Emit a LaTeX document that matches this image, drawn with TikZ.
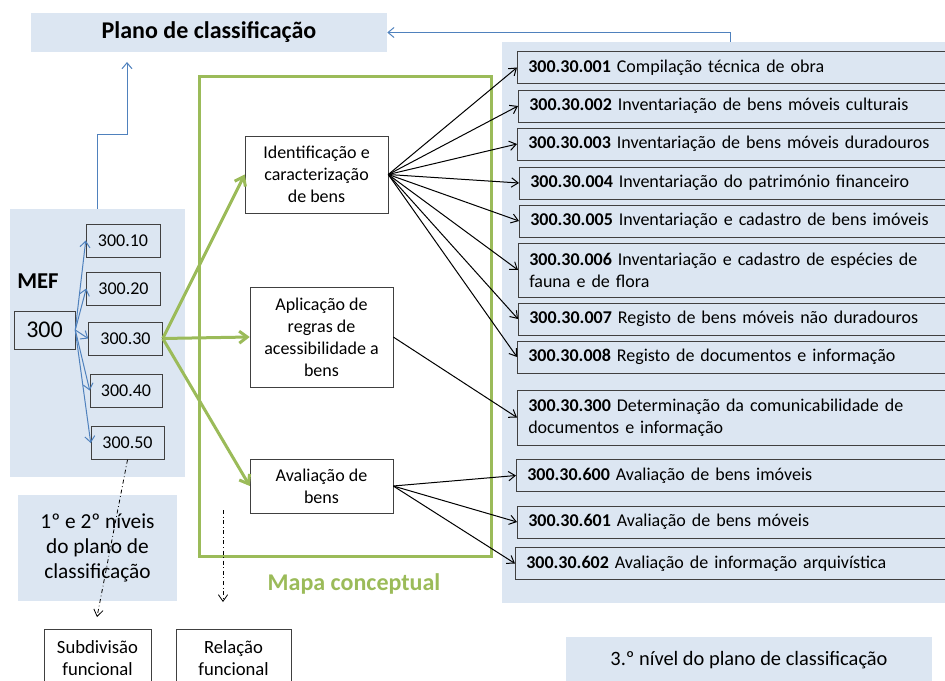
\documentclass[tikz,border=0pt]{standalone}
\usepackage{fontspec}
\setmainfont{Carlito}
\usepackage{tikz}
\usetikzlibrary{arrows.meta}
\definecolor{panelblue}{HTML}{DCE6F2}
\definecolor{lineblue}{HTML}{4F81BD}
\definecolor{mapgreen}{HTML}{9BBB59}
\tikzset{
       panel/.style = { fill=panelblue, inner sep=0pt },
      subbox/.style = { draw=black!75, fill=panelblue, minimum width=55.5pt, minimum height=24.75pt, inner sep=0pt, font=\fontsize{13.5}{16.5}\selectfont },
      midbox/.style = { draw=black!75, fill=white, minimum width=107.25pt, inner sep=0pt, align=center, font=\fontsize{13.5}{16.5}\selectfont },
     codebox/.style = { draw=black!75, anchor=west, minimum height=24pt, inner xsep=8.25pt, inner ysep=0pt, text width=315.75pt, align=left, font=\fontsize{13.5}{16.5}\selectfont },
     notebox/.style = { fill=panelblue, inner sep=0pt, align=center },
     funcbox/.style = { draw=black!75, fill=white, inner sep=0pt, minimum height=43.5pt, align=center, font=\fontsize{14}{16}\selectfont },
   bluearrow/.style = { draw=lineblue, line width=0.75pt, -{Straight Barb[length=4.5pt,width=7.5pt]} },
  greenarrow/.style = { draw=mapgreen, line width=2.25pt, -{Straight Barb[length=6pt,width=9pt]} },
    fanarrow/.style = { draw=black, line width=0.75pt, -{Straight Barb[length=5pt,width=7pt]} },
   dasharrow/.style = { draw=black, line width=0.6pt, dash dot, -{Straight Barb[length=5pt,width=7pt]} }
}

\begin{document}
\begin{tikzpicture}[x=0.75pt, y=-0.75pt]
  \useasboundingbox (0,0) rectangle (945,681);
  \clip (0,0) rectangle (945,681);

  % panels
  \node (plano) at(209,32.5) [panel, minimum width=267pt, minimum height=29.25pt, font=\fontsize{18}{21}\selectfont\bfseries] {Plano de classificação};
  \node (mef) at(97.5,343) [panel, minimum width=131.25pt, minimum height=201pt] {};
  \node (rpanel) at(731,322.5) [panel, minimum width=343.5pt, minimum height=420.75pt] {};
  \node (niveis) at(97.5,548) [notebox, minimum width=119.25pt, minimum height=79.5pt, font=\fontsize{16}{18.75}\selectfont] {1º e 2º níveis\\do plano de\\classificação};
  \node (terceiro) at(749,660.5) [notebox, minimum width=274.5pt, minimum height=35.25pt, font=\fontsize{15.3}{18}\selectfont] {3.º nível do plano de classificação};

  % mapa conceptual
  \node (mapa) at(345,316.5) [draw=mapgreen, line width=2.25pt, minimum width=219pt, minimum height=359.25pt] {};
  \node (mapalabel) at(354,584) [text=mapgreen, font=\fontsize{18}{21}\selectfont\bfseries] {Mapa conceptual};

  % MEF
  \node (meflabel) at(38,281) [font=\fontsize{17}{20}\selectfont\bfseries] {MEF};
  \node (n300) at(44.5,330) [draw=black!75, fill=panelblue, minimum width=45.75pt, minimum height=28.5pt, inner sep=0pt, font=\fontsize{18}{21}\selectfont] {300};
  \node (s10) at(123,240.5) [subbox] {300.10};
  \node (s20) at(123.5,288.5) [subbox] {300.20};
  \node (s30) at(125.5,338.5) [subbox] {300.30};
  \node (s40) at(126,390.5) [subbox, minimum width=54pt] {300.40};
  \node (s50) at(127.5,443) [subbox, minimum width=54.75pt] {300.50};

  % middle boxes
  \node (ident) at(316.5,174.5) [midbox, minimum height=57.75pt] {Identificação e\\caracterização\\de bens};
  \node (aplic) at(321.5,337) [midbox, minimum height=75pt] {Aplicação de\\regras de\\acessibilidade a\\bens};
  \node (aval) at(321.5,486) [midbox, minimum height=40.5pt] {Avaliação de\\bens};

  % 3rd level
  \node (r1) at(517,67.5) [codebox] {\textbf{300.30.001} Compilação técnica de obra};
  \node (r2) at(518,106) [codebox] {\textbf{300.30.002} Inventariação de bens móveis culturais};
  \node (r3) at(517,144) [codebox] {\textbf{300.30.003} Inventariação de bens móveis duradouros};
  \node (r4) at(519,183) [codebox] {\textbf{300.30.004} Inventariação do património financeiro};
  \node (r5) at(519,221) [codebox] {\textbf{300.30.005} Inventariação e cadastro de bens imóveis};
  \node (r6) at(518,270) [codebox, minimum height=40.5pt] {\textbf{300.30.006} Inventariação e cadastro de espécies de\\fauna e de flora};
  \node (r7) at(518,319) [codebox] {\textbf{300.30.007} Registo de bens móveis não duradouros};
  \node (r8) at(517,357) [codebox] {\textbf{300.30.008} Registo de documentos e informação};
  \node (r9) at(517,417.5) [codebox, minimum height=41.25pt] {\textbf{300.30.300} Determinação da comunicabilidade de\\documentos e informação};
  \node (r10) at(516,475.5) [codebox] {\textbf{300.30.600} Avaliação de bens imóveis};
  \node (r11) at(517,522) [codebox] {\textbf{300.30.601} Avaliação de bens móveis};
  \node (r12) at(515,563.5) [codebox] {\textbf{300.30.602} Avaliação de informação arquivística};

  % bottom boxes
  \node (subdiv) at(97.5,658) [funcbox, minimum width=80.25pt] {Subdivisão\\funcional};
  \node (relacao) at(233.5,658) [funcbox, minimum width=86.25pt] {Relação\\funcional};

  % connectors
  \coordinate (planoin) at(127,62);
  \coordinate (rtop) at(730,42);
  \draw[bluearrow] (mef.north) |- (127,135) -- (planoin);
  \draw[bluearrow] (rtop) |- (plano.east);

  \draw[bluearrow] (n300.east) -- (s10.west);
  \draw[bluearrow] (n300.east) -- (s20.west);
  \draw[bluearrow] (n300.east) -- (s30.west);
  \draw[bluearrow] (n300.east) -- (s40.west);
  \draw[bluearrow] (n300.east) -- (s50.west);

  \draw[greenarrow] (s30.east) -- (ident.west);
  \draw[greenarrow] (s30.east) -- (aplic.west);
  \draw[greenarrow] (s30.east) -- (aval.west);

  \draw[fanarrow] (ident.east) -- (r1.west);
  \draw[fanarrow] (ident.east) -- (r2.west);
  \draw[fanarrow] (ident.east) -- (r3.west);
  \draw[fanarrow] (ident.east) -- (r4.west);
  \draw[fanarrow] (ident.east) -- (r5.west);
  \draw[fanarrow] (ident.east) -- (r6.west);
  \draw[fanarrow] (ident.east) -- (r7.west);
  \draw[fanarrow] (ident.east) -- (r8.west);
  \draw[fanarrow] (aplic.east) -- (r9.west);
  \draw[fanarrow] (aval.east) -- (r10.west);
  \draw[fanarrow] (aval.east) -- (r11.west);
  \draw[fanarrow] (aval.east) -- (r12.west);

  \coordinate (subdivin) at(97,617);
  \coordinate (relfrom) at(223,510);
  \coordinate (relto) at(223,602);
  \draw[dasharrow] (s50.south) -- (subdivin);
  \draw[dasharrow] (relfrom) -- (relto);
\end{tikzpicture}
\end{document}
